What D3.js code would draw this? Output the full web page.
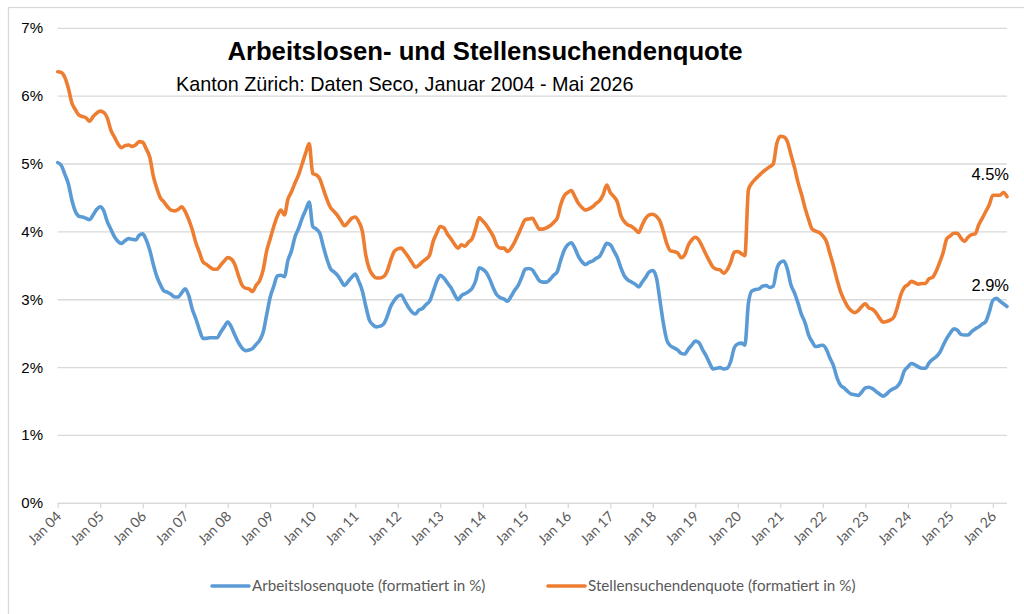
<!DOCTYPE html>
<html>
<head>
<meta charset="utf-8">
<script src="https://d3js.org/d3.v7.min.js"></script>
<style>
  body { margin: 0; background: #fff; }
  svg { display: block; }
  .ylab { font-family: "Liberation Sans", Arial, sans-serif; font-size: 15px; fill: #000; }
  .xlab { font-family: Lato, "Open Sans", sans-serif; font-size: 14px; fill: #595959; }
  .leg { font-family: Lato, "Open Sans", sans-serif; font-size: 15.2px; fill: #595959; }
</style>
</head>
<body>
<div id="chart"></div>
<script>
// monthly values, Jan 2004 .. May 2026 (in %)
var arbeitslosenquote = [
  5.02, 4.98, 4.85, 4.71, 4.47, 4.30, 4.23, 4.22, 4.20, 4.18, 4.25, 4.33,
  4.37, 4.31, 4.15, 4.04, 3.93, 3.86, 3.83, 3.87, 3.90, 3.89, 3.88, 3.95,
  3.97, 3.88, 3.73, 3.52, 3.34, 3.22, 3.13, 3.11, 3.08, 3.04, 3.04, 3.10,
  3.16, 3.06, 2.86, 2.72, 2.56, 2.43, 2.43, 2.44, 2.44, 2.44, 2.52, 2.60,
  2.67, 2.60, 2.48, 2.37, 2.29, 2.25, 2.26, 2.28, 2.34, 2.40, 2.52, 2.78,
  3.04, 3.20, 3.35, 3.36, 3.34, 3.58, 3.72, 3.93, 4.05, 4.20, 4.32, 4.44,
  4.08, 4.04, 3.98, 3.78, 3.60, 3.46, 3.41, 3.36, 3.28, 3.21, 3.27, 3.33,
  3.38, 3.27, 3.13, 2.90, 2.70, 2.63, 2.60, 2.61, 2.64, 2.75, 2.90, 2.99,
  3.05, 3.07, 2.98, 2.89, 2.82, 2.79, 2.85, 2.87, 2.93, 2.98, 3.12, 3.27,
  3.36, 3.32, 3.25, 3.18, 3.08, 3.00, 3.06, 3.09, 3.12, 3.17, 3.28, 3.47,
  3.45, 3.40, 3.30, 3.17, 3.07, 3.03, 3.01, 2.98, 3.05, 3.14, 3.21, 3.33,
  3.45, 3.46, 3.44, 3.36, 3.28, 3.26, 3.26, 3.30, 3.36, 3.41, 3.58, 3.73,
  3.81, 3.84, 3.76, 3.64, 3.56, 3.52, 3.55, 3.57, 3.61, 3.64, 3.74, 3.83,
  3.81, 3.72, 3.62, 3.47, 3.35, 3.29, 3.26, 3.23, 3.19, 3.26, 3.33, 3.41,
  3.43, 3.33, 3.00, 2.65, 2.40, 2.32, 2.29, 2.26, 2.21, 2.20, 2.27, 2.33,
  2.39, 2.37, 2.27, 2.18, 2.07, 1.98, 1.99, 2.00, 1.98, 1.99, 2.09, 2.29,
  2.35, 2.36, 2.33, 2.95, 3.13, 3.15, 3.16, 3.20, 3.21, 3.18, 3.20, 3.45,
  3.55, 3.57, 3.45, 3.22, 3.10, 2.95, 2.78, 2.66, 2.48, 2.38, 2.31, 2.32,
  2.33, 2.27, 2.14, 2.03, 1.85, 1.74, 1.70, 1.65, 1.61, 1.60, 1.59, 1.64,
  1.70, 1.71, 1.69, 1.65, 1.61, 1.58, 1.61, 1.66, 1.69, 1.72, 1.80, 1.95,
  2.01, 2.06, 2.04, 2.01, 1.99, 1.99, 2.07, 2.12, 2.16, 2.22, 2.33, 2.43,
  2.51, 2.57, 2.55, 2.49, 2.48, 2.48, 2.53, 2.57, 2.60, 2.64, 2.68, 2.82,
  2.99, 3.02, 2.98, 2.94, 2.90
];

var stellensuchendenquote = [
  6.36, 6.35, 6.28, 6.12, 5.90, 5.80, 5.72, 5.70, 5.68, 5.63, 5.70, 5.75,
  5.78, 5.76, 5.68, 5.50, 5.40, 5.30, 5.24, 5.27, 5.28, 5.26, 5.28, 5.33,
  5.32, 5.22, 5.10, 4.82, 4.64, 4.50, 4.44, 4.37, 4.32, 4.31, 4.33, 4.37,
  4.30, 4.18, 4.03, 3.84, 3.70, 3.56, 3.52, 3.48, 3.45, 3.45, 3.51, 3.57,
  3.62, 3.60, 3.52, 3.36, 3.22, 3.17, 3.16, 3.12, 3.21, 3.28, 3.44, 3.72,
  3.90, 4.08, 4.23, 4.32, 4.25, 4.48, 4.59, 4.72, 4.84, 5.00, 5.16, 5.30,
  4.86, 4.84, 4.78, 4.63, 4.48, 4.36, 4.30, 4.24, 4.16, 4.09, 4.14, 4.20,
  4.22, 4.15, 4.01, 3.65, 3.45, 3.36, 3.32, 3.32, 3.34, 3.42, 3.58, 3.71,
  3.75, 3.76, 3.70, 3.63, 3.55, 3.48, 3.51, 3.56, 3.60, 3.66, 3.86, 3.98,
  4.08, 4.06, 3.97, 3.90, 3.82, 3.76, 3.81, 3.79, 3.85, 3.90, 4.05, 4.21,
  4.16, 4.10, 4.02, 3.93, 3.80, 3.76, 3.76, 3.71, 3.76, 3.85, 3.96, 4.08,
  4.18, 4.19, 4.20, 4.12, 4.04, 4.04, 4.06, 4.09, 4.14, 4.20, 4.40, 4.53,
  4.58, 4.61, 4.52, 4.42, 4.36, 4.32, 4.34, 4.37, 4.42, 4.46, 4.55, 4.69,
  4.58, 4.52, 4.44, 4.24, 4.15, 4.10, 4.08, 4.04, 3.99, 4.10, 4.20, 4.25,
  4.26, 4.23, 4.16, 4.00, 3.82, 3.72, 3.71, 3.69, 3.62, 3.66, 3.80, 3.88,
  3.92, 3.88, 3.78, 3.67, 3.57, 3.48, 3.45, 3.44, 3.39, 3.44, 3.55, 3.70,
  3.71, 3.68, 3.65, 4.62, 4.72, 4.78, 4.83, 4.88, 4.92, 4.96, 5.00, 5.30,
  5.41, 5.40, 5.33, 5.14, 4.95, 4.73, 4.55, 4.35, 4.18, 4.04, 4.01, 3.99,
  3.94, 3.86, 3.68, 3.50, 3.30, 3.12, 3.00, 2.90, 2.84, 2.81, 2.84, 2.90,
  2.94, 2.88, 2.86, 2.81, 2.73, 2.67, 2.68, 2.70, 2.74, 2.88, 3.07, 3.18,
  3.22, 3.27, 3.25, 3.23, 3.24, 3.24, 3.31, 3.33, 3.42, 3.55, 3.70, 3.90,
  3.94, 3.98, 3.98, 3.91, 3.86, 3.92, 3.96, 3.97, 4.10, 4.20, 4.30, 4.40,
  4.54, 4.54, 4.54, 4.58, 4.52
];

var tickLabels = ["Jan 04", "Jan 05", "Jan 06", "Jan 07", "Jan 08", "Jan 09", "Jan 10", "Jan 11",
  "Jan 12", "Jan 13", "Jan 14", "Jan 15", "Jan 16", "Jan 17", "Jan 18", "Jan 19", "Jan 20",
  "Jan 21", "Jan 22", "Jan 23", "Jan 24", "Jan 25", "Jan 26"];
var yTicks = [0, 1, 2, 3, 4, 5, 6, 7];
var seriesNames = ["Arbeitslosenquote (formatiert in %)", "Stellensuchendenquote (formatiert in %)"];
var colors = ["#5b9bd5", "#ed7d31"];

var width = 1024, height = 614;
var svg = d3.select("#chart").append("svg")
    .attr("width", width)
    .attr("height", height);

// outer frame
svg.append("rect")
    .attr("x", 8.5).attr("y", 7.5)
    .attr("width", 1040).attr("height", 640)
    .attr("fill", "none").attr("stroke", "#d9d9d9").attr("stroke-width", 1.3);

var x = d3.scaleLinear().domain([0, arbeitslosenquote.length - 1]).range([57.7, 1007]);
var y = d3.scaleLinear().domain([0, 7]).range([503.3, 28.3]);

// gridlines
svg.append("g").selectAll("line").data(yTicks).enter().append("line")
    .attr("x1", 57.7).attr("x2", 1007)
    .attr("y1", function(d) { return y(d); })
    .attr("y2", function(d) { return y(d); })
    .attr("stroke", "#d9d9d9").attr("stroke-width", 1.3);

// y labels
svg.append("g").selectAll("text").data(yTicks).enter().append("text")
    .attr("class", "ylab")
    .attr("x", 43)
    .attr("y", function(d) { return y(d) + 5; })
    .attr("text-anchor", "end")
    .text(function(d) { return d + "%"; });

// x axis
var tickIdx = tickLabels.map(function(d, i) { return i * 12; });
var xAxis = d3.axisBottom(x)
    .tickValues(tickIdx)
    .tickSize(5)
    .tickFormat(function(d, i) { return tickLabels[i]; });
var gx = svg.append("g")
    .attr("transform", "translate(0," + y(0) + ")")
    .call(xAxis);
gx.select(".domain").attr("stroke", "#d9d9d9").attr("stroke-width", 1.3)
    .attr("d", "M57.7,0H1007");
gx.selectAll(".tick line").attr("stroke", "#d9d9d9").attr("stroke-width", 1.3);
gx.selectAll(".tick text")
    .attr("class", "xlab")
    .attr("text-anchor", "end")
    .attr("x", 0).attr("y", 0).attr("dy", 0)
    .attr("transform", "translate(4,14) rotate(-45)");

// lines
var line = d3.line()
    .x(function(d, i) { return x(i); })
    .y(function(d) { return y(d); })
    .curve(d3.curveMonotoneX);

[arbeitslosenquote, stellensuchendenquote].forEach(function(s, k) {
  svg.append("path")
      .datum(s)
      .attr("d", line)
      .attr("fill", "none")
      .attr("stroke", colors[k])
      .attr("stroke-width", 3.6)
      .attr("stroke-linejoin", "round")
      .attr("stroke-linecap", "round");
});

// end labels
var last = arbeitslosenquote.length - 1;
svg.append("text").attr("class", "ylab")
    .attr("x", 1009).attr("y", 180).attr("text-anchor", "end").style("font-size", "16.5px")
    .text(stellensuchendenquote[last].toFixed(1) + "%");
svg.append("text").attr("class", "ylab")
    .attr("x", 1009).attr("y", 290.5).attr("text-anchor", "end").style("font-size", "16.5px")
    .text(arbeitslosenquote[last].toFixed(1) + "%");

// title
svg.append("text")
    .attr("x", 485).attr("y", 60)
    .attr("text-anchor", "middle")
    .attr("font-family", "'Liberation Sans', Arial, sans-serif")
    .attr("font-weight", "bold")
    .attr("font-size", "25.7px")
    .attr("fill", "#000")
    .text("Arbeitslosen- und Stellensuchendenquote");
svg.append("text")
    .attr("x", 176).attr("y", 90.5)
    .attr("font-family", "'Liberation Sans', Arial, sans-serif")
    .attr("font-size", "19.8px")
    .attr("fill", "#000")
    .text("Kanton Zürich: Daten Seco, Januar 2004 - Mai 2026");

// legend
var legX = [212, 548];
seriesNames.forEach(function(n, k) {
  svg.append("line")
      .attr("x1", legX[k]).attr("x2", legX[k] + 37)
      .attr("y1", 586).attr("y2", 586)
      .attr("stroke", colors[k]).attr("stroke-width", 3.6)
      .attr("stroke-linecap", "round");
  svg.append("text").attr("class", "leg")
      .attr("x", legX[k] + 40).attr("y", 591)
      .text(n);
});
</script>
</body>
</html>
